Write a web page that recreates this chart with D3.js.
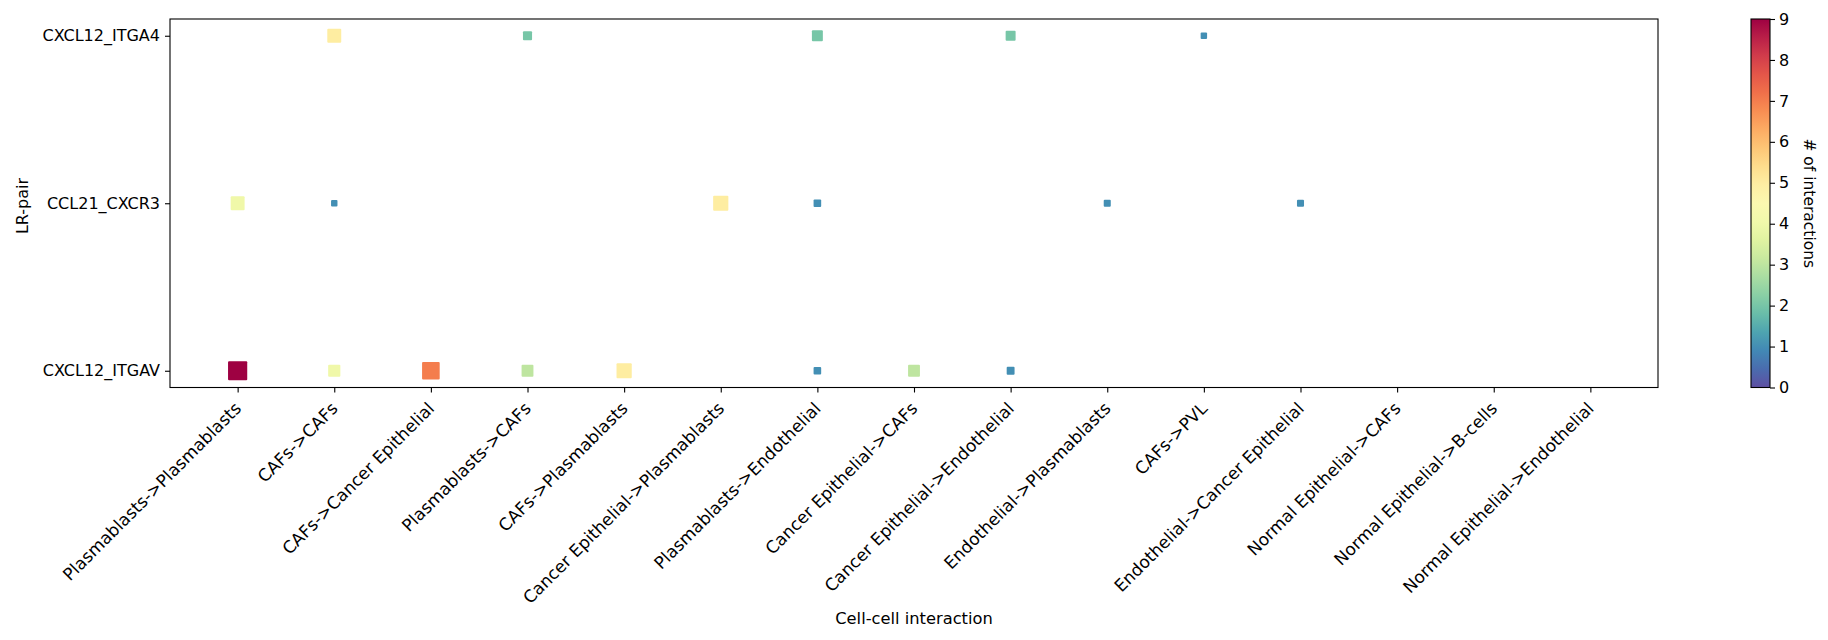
<!DOCTYPE html>
<html lang="en">

<head>
    <meta charset="UTF-8">
    <title>LR-pair dot plot</title>
    <script src="https://d3js.org/d3.v7.min.js"></script>
    <style>
        body { margin: 0; background: #fff; }
        text { font-family: "DejaVu Sans", sans-serif; fill: #000; }
    </style>
</head>

<body>
    <svg id="chart" width="1828" height="640"></svg>

    <script>
        // categories
        const interactions = [
            "Plasmablasts->Plasmablasts", "CAFs->CAFs", "CAFs->Cancer Epithelial",
            "Plasmablasts->CAFs", "CAFs->Plasmablasts", "Cancer Epithelial->Plasmablasts",
            "Plasmablasts->Endothelial", "Cancer Epithelial->CAFs", "Cancer Epithelial->Endothelial",
            "Endothelial->Plasmablasts", "CAFs->PVL", "Endothelial->Cancer Epithelial",
            "Normal Epithelial->CAFs", "Normal Epithelial->B-cells", "Normal Epithelial->Endothelial"
        ];
        const lrPairs = ["CXCL12_ITGAV", "CCL21_CXCR3", "CXCL12_ITGA4"]; // bottom -> top

        // # of interactions (colour), one entry per interaction, null = no dot
        const countITGAV = [9, 4, 7, 3, 5, null, 1, 3, 1, null, null, null, null, null, null];
        const countCXCR3 = [4, 1, null, null, null, 5, 1, null, null, 1, null, 1, null, null, null];
        const countITGA4 = [null, 5, null, 2, null, null, 2, null, 2, null, 1, null, null, null, null];

        // magnitude (dot size)
        const magITGAV = [8.9, 3.6, 7.5, 3.4, 5.6, null, 1.4, 3.4, 1.5, null, null, null, null, null, null];
        const magCXCR3 = [4.7, 1.0, null, null, null, 5.6, 1.4, null, null, 1.2, null, 1.2, null, null, null];
        const magITGA4 = [null, 4.7, null, 2.0, null, null, 2.9, null, 2.4, null, 1.0, null, null, null, null];

        const cbTicks = [0, 1, 2, 3, 4, 5, 6, 7, 8, 9];

        const rows = [
            { pair: lrPairs[0], counts: countITGAV, mags: magITGAV },
            { pair: lrPairs[1], counts: countCXCR3, mags: magCXCR3 },
            { pair: lrPairs[2], counts: countITGA4, mags: magITGA4 }
        ];
        const points = [];
        rows.forEach(r => {
            r.counts.forEach((c, i) => {
                if (c !== null) points.push({ pair: r.pair, inter: interactions[i], count: c, mag: r.mags[i] });
            });
        });

        const svg = d3.select("#chart");
        const margin = { top: 19, left: 170 };
        const width = 1658 - margin.left;
        const height = 387.5 - margin.top;
        const g = svg.append("g").attr("transform", `translate(${margin.left},${margin.top})`);

        // matplotlib style 5% padding on categorical positions
        const x = d3.scalePoint().domain(interactions).range([0, width]).padding(0.05 * (interactions.length - 1));
        const y = d3.scalePoint().domain(lrPairs).range([height, 0]).padding(0.05 * (lrPairs.length - 1));
        const side = d3.scaleSqrt().domain([0, 9]).range([0, 19.3]);
        const color = v => d3.interpolateSpectral(1 - v / 9);

        // dots
        g.selectAll("rect.dot")
            .data(points)
            .join("rect")
            .attr("class", "dot")
            .attr("x", d => x(d.inter) - side(d.mag) / 2)
            .attr("y", d => y(d.pair) - side(d.mag) / 2)
            .attr("width", d => side(d.mag))
            .attr("height", d => side(d.mag))
            .attr("rx", 1)
            .attr("fill", d => color(d.count));

        // frame
        g.append("rect")
            .attr("width", width)
            .attr("height", height)
            .attr("fill", "none")
            .attr("stroke", "#000")
            .attr("stroke-width", 1.1);

        // x axis
        const xAxis = g.append("g")
            .attr("transform", `translate(0,${height})`)
            .call(d3.axisBottom(x).tickSize(5).tickPadding(0));
        xAxis.select(".domain").remove();
        xAxis.selectAll("line").attr("stroke", "#000").attr("stroke-width", 1.1);
        xAxis.selectAll("text")
            .attr("font-size", "17px")
            .attr("text-anchor", "end")
            .attr("dy", "0.71em")
            .attr("transform", "translate(-8,10) rotate(-45)");

        // y axis
        const yAxis = g.append("g")
            .call(d3.axisLeft(y).tickSize(5).tickPadding(5));
        yAxis.select(".domain").remove();
        yAxis.selectAll("line").attr("stroke", "#000").attr("stroke-width", 1.1);
        yAxis.selectAll("text").attr("font-size", "16px");

        // axis labels
        svg.append("text")
            .attr("x", 914)
            .attr("y", 624)
            .attr("text-anchor", "middle")
            .attr("font-size", "16.3px")
            .text("Cell-cell interaction");

        svg.append("text")
            .attr("transform", "translate(28,206) rotate(-90)")
            .attr("text-anchor", "middle")
            .attr("font-size", "16px")
            .text("LR-pair");

        // colorbar
        const cbX = 1751, cbW = 19;
        const cbY = d3.scaleLinear().domain([0, 9]).range([387.5, 19]);
        const defs = svg.append("defs");
        const grad = defs.append("linearGradient")
            .attr("id", "cbGrad")
            .attr("x1", 0).attr("y1", 1).attr("x2", 0).attr("y2", 0);
        d3.range(0, 1.0001, 0.05).forEach(t => {
            grad.append("stop").attr("offset", t).attr("stop-color", color(t * 9));
        });
        svg.append("rect")
            .attr("x", cbX)
            .attr("y", cbY(9))
            .attr("width", cbW)
            .attr("height", cbY(0) - cbY(9))
            .attr("fill", "url(#cbGrad)")
            .attr("stroke", "#000")
            .attr("stroke-width", 1.1);

        const cbAxis = svg.append("g")
            .attr("transform", `translate(${cbX + cbW},0)`)
            .call(d3.axisRight(cbY).tickValues(cbTicks).tickSize(5).tickPadding(4));
        cbAxis.select(".domain").remove();
        cbAxis.selectAll("line").attr("stroke", "#000").attr("stroke-width", 1.1);
        cbAxis.selectAll("text").attr("font-size", "16px");

        svg.append("text")
            .attr("transform", `translate(1804,${cbY(4.5)}) rotate(90)`)
            .attr("text-anchor", "middle")
            .attr("font-size", "15.5px")
            .text("# of interactions");
    </script>

</body>

</html>
